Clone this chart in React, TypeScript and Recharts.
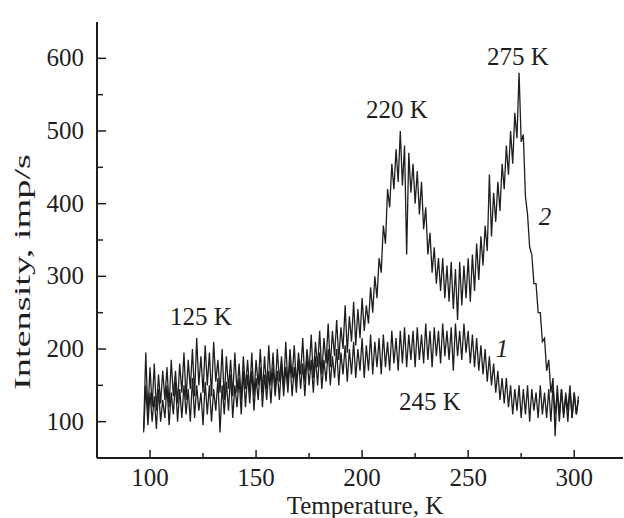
import React from 'react';
import { LineChart, Line, XAxis, YAxis } from 'recharts';

// sampling grid of the scan, 1 K per point starting at 97 K
const T_START = 97;

// curve 2 (upper, two peaks at 220 K and 275 K), imp/s
const curve2 = [
  90, 195, 110, 175, 120, 180, 115, 165, 125, 170,
  130, 175, 120, 185, 135, 170, 125, 180, 140, 195,
  130, 185, 145, 200, 135, 215, 150, 190, 140, 205,
  150, 195, 135, 210, 155, 185, 140, 200, 130, 190,
  145, 185, 135, 195, 140, 180, 130, 190, 145, 185,
  140, 195, 135, 185, 150, 200, 140, 190, 145, 205,
  150, 195, 140, 200, 155, 190, 145, 210, 150, 200,
  160, 205, 150, 195, 165, 215, 155, 200, 170, 220,
  160, 210, 175, 225, 165, 215, 180, 235, 175, 225,
  190, 240, 185, 230, 200, 260, 195, 245, 210, 265,
  205, 255, 215, 270, 225, 260, 235, 285, 250, 300,
  270, 325, 305, 370, 345, 420, 395, 455, 420, 475,
  430, 500, 425, 480, 330, 470, 415, 455, 400, 445,
  385, 430, 365, 395, 330, 360, 305, 340, 290, 325,
  280, 325, 270, 315, 265, 320, 255, 310, 240, 320,
  260, 315, 270, 325, 265, 330, 280, 345, 295, 355,
  315, 370, 335, 440, 355, 415, 375, 430, 390, 455,
  420, 480, 440, 500, 455, 525, 490, 580, 485, 495,
  410, 385, 340, 330, 290, 290, 250, 250, 210, 215,
  170, 185, 140, 160, 80, 150, 110, 145, 105, 140,
  115, 150, 105, 140, 110, 135,
];

// curve 1 (lower, broad hump near 245 K), imp/s
const curve1 = [
  85, 150, 95, 140, 100, 135, 90, 145, 100, 130,
  105, 150, 95, 140, 110, 155, 100, 145, 105, 150,
  110, 145, 100, 160, 105, 150, 115, 140, 95, 155,
  110, 150, 100, 145, 115, 160, 85, 150, 110, 155,
  115, 165, 105, 150, 120, 160, 110, 170, 120, 165,
  125, 170, 115, 160, 130, 175, 120, 165, 130, 170,
  125, 175, 135, 170, 130, 180, 135, 175, 140, 185,
  135, 175, 140, 185, 145, 180, 135, 190, 150, 185,
  140, 190, 150, 195, 145, 185, 155, 200, 150, 190,
  160, 200, 150, 195, 165, 205, 155, 200, 165, 210,
  160, 200, 170, 215, 160, 205, 170, 220, 165, 210,
  175, 215, 165, 220, 175, 210, 170, 225, 180, 215,
  170, 225, 180, 230, 175, 220, 185, 225, 175, 230,
  185, 220, 180, 235, 185, 225, 175, 230, 190, 225,
  180, 235, 190, 225, 185, 230, 170, 235, 190, 225,
  185, 235, 195, 225, 180, 220, 175, 215, 170, 205,
  165, 200, 155, 190, 150, 180, 140, 170, 130, 160,
  125, 160, 120, 150, 110, 145, 115, 150, 105, 145,
  110, 150, 100, 145, 115, 140, 105, 150, 110, 140,
  105, 145, 100, 150, 110, 140, 100, 145, 110, 135,
  100, 145, 105, 140, 110, 130,
];

const xTicks = [100, 125, 150, 175, 200, 225, 250, 275, 300];
const yTicks = [100, 150, 200, 250, 300, 350, 400, 450, 500, 550, 600];

const data = curve2.map((v, i) => ({ t: T_START + i, c1: curve1[i], c2: v }));

const FONT = '"Liberation Serif", "Times New Roman", serif';
const INK = '#1e1e1e';

const XTick = (props: any) => {
  const { x, y, payload } = props;
  const major = payload.value % 50 === 0;
  return (
    <g>
      <line x1={x} y1={y} x2={x} y2={y - (major ? 8 : 5)} stroke={INK} strokeWidth={1.5} />
      {major && (
        <text x={x} y={y + 28} textAnchor="middle" fontFamily={FONT} fontSize={25} fill={INK}>
          {payload.value}
        </text>
      )}
    </g>
  );
};

const YTick = (props: any) => {
  const { x, y, payload } = props;
  const major = payload.value % 100 === 0;
  return (
    <g>
      <line x1={x} y1={y} x2={x + (major ? 9 : 6)} y2={y} stroke={INK} strokeWidth={1.5} />
      {major && (
        <text x={x - 13} y={y + 8} textAnchor="end" fontFamily={FONT} fontSize={25} fill={INK}>
          {payload.value}
        </text>
      )}
    </g>
  );
};

export default function App() {
  return (
    <div style={{ position: 'absolute', left: 0, top: 0, width: 624, height: 518, background: '#fff' }}>
      <LineChart width={624} height={518} data={data} margin={{ top: 22, right: 1, bottom: 30, left: 37 }}>
        <XAxis
          dataKey="t"
          type="number"
          domain={[75, 323]}
          ticks={xTicks}
          interval={0}
          tickSize={0}
          tickMargin={0}
          tickLine={false}
          tick={<XTick />}
          axisLine={{ stroke: INK, strokeWidth: 2 }}
          allowDataOverflow
        />
        <YAxis
          type="number"
          domain={[50, 650]}
          ticks={yTicks}
          interval={0}
          width={60}
          tickSize={0}
          tickMargin={0}
          tickLine={false}
          tick={<YTick />}
          axisLine={{ stroke: INK, strokeWidth: 2 }}
          allowDataOverflow
        />
        <Line dataKey="c1" type="linear" stroke={INK} strokeWidth={1.3} dot={false} isAnimationActive={false} />
        <Line dataKey="c2" type="linear" stroke={INK} strokeWidth={1.3} dot={false} isAnimationActive={false} />
      </LineChart>
      <svg
        width={624}
        height={518}
        style={{ position: 'absolute', left: 0, top: 0, pointerEvents: 'none' }}
        fontFamily={FONT}
        fill={INK}
      >
        <text x={201} y={325} fontSize={25} textAnchor="middle">125 K</text>
        <text x={397} y={118} fontSize={25} textAnchor="middle">220 K</text>
        <text x={518} y={65} fontSize={25} textAnchor="middle">275 K</text>
        <text x={430} y={410} fontSize={25} textAnchor="middle">245 K</text>
        <text x={502} y={357} fontSize={25} textAnchor="middle" fontStyle="italic">1</text>
        <text x={545} y={225} fontSize={25} textAnchor="middle" fontStyle="italic">2</text>
        <text x={365} y={514} fontSize={25} textAnchor="middle">Temperature, K</text>
        <text
          x={30}
          y={272}
          fontSize={24}
          textAnchor="middle"
          transform="rotate(-90 30 272)"
          textLength={236}
          lengthAdjust="spacingAndGlyphs"
        >
          Intensity, imp/s
        </text>
      </svg>
    </div>
  );
}
